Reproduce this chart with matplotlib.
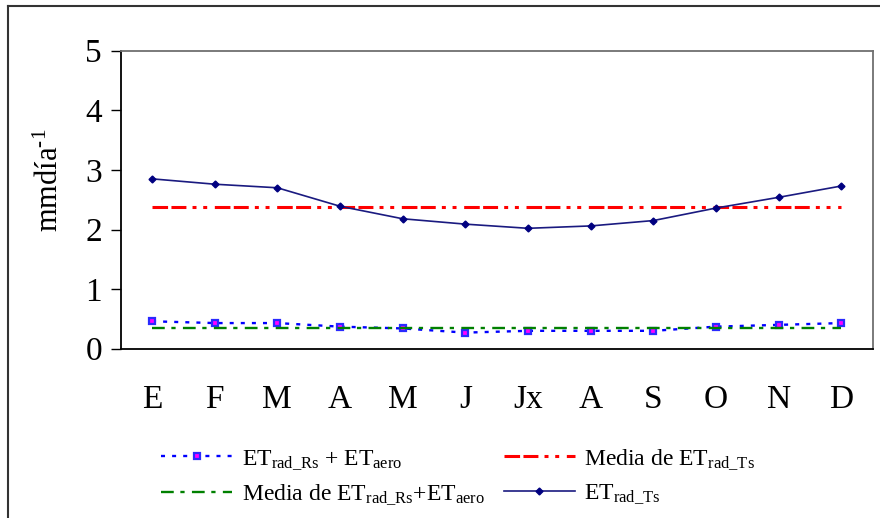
import numpy as np
import matplotlib
matplotlib.use("Agg")
from matplotlib import pyplot as plt
from matplotlib.lines import Line2D

plt.rcParams['font.family'] = ['Liberation Serif', 'DejaVu Serif']
plt.rcParams['mathtext.fontset'] = 'custom'
plt.rcParams['mathtext.rm'] = 'Liberation Serif'
plt.rcParams['mathtext.it'] = 'Liberation Serif:italic'

# months (Spanish initials, "Jx" = julio)
months = ["E", "F", "M", "A", "M", "J", "Jx", "A", "S", "O", "N", "D"]

# values [mm/dia]
et_rad_ts = [2.85, 2.76, 2.70, 2.39, 2.18, 2.09, 2.02, 2.06, 2.15, 2.36, 2.54, 2.73]
et_rs_aero = [0.46, 0.43, 0.43, 0.37, 0.34, 0.27, 0.30, 0.30, 0.30, 0.37, 0.40, 0.43]
media_ts = 2.37
media_rs_aero = 0.35

x = np.arange(len(months)) + 0.5

fig = plt.figure(figsize=(8.8, 5.18), dpi=100)
ax = fig.add_axes([120.7/880, 1-348.7/518, (872.7-120.7)/880, (348.7-50.7)/518])

# outer frame (only top and left visible)
fig.add_artist(Line2D([8/880, 8/880], [0, 1-6/518], color='#333333', lw=1.5))
fig.add_artist(Line2D([8/880, 1], [1-6/518, 1-6/518], color='#333333', lw=1.5))

l_blue, = ax.plot(x, et_rs_aero, color='#0000ff', lw=1.7, linestyle=(0, (1.7, 3.0)),
                  marker='s', markersize=5, markerfacecolor='#ff00ff',
                  markeredgecolor='#2a2aff', markeredgewidth=1.6,
                  label=r'ET$_{\mathrm{rad\_Rs}}$ + ET$_{\mathrm{aero}}$')
l_green, = ax.plot(x, np.full(len(x), media_rs_aero), color='#008000', lw=1.7,
                   linestyle=(0, (5.4, 2.8, 1.8, 3.1)),
                   label=r'Media de ET$_{\mathrm{rad\_Rs}}$+ET$_{\mathrm{aero}}$')
l_red, = ax.plot(x, np.full(len(x), media_ts), color='#ff0000', lw=2.2,
                 linestyle=(0, (5.1, 1.1, 4.9, 2.0, 1.3, 2.2, 1.3, 2.5)),
                 label=r'Media de ET$_{\mathrm{rad\_Ts}}$')
l_navy, = ax.plot(x, et_rad_ts, color='#1a1a80', lw=1.2, marker='D', markersize=3.5,
                  markerfacecolor='#000080', markeredgecolor='#000080',
                  label=r'ET$_{\mathrm{rad\_Ts}}$')

ax.set_xlim(0, 12)
ax.set_ylim(0, 5)
ax.set_xticks(x)
ax.set_xticklabels(months)
ax.set_yticks([0, 1, 2, 3, 4, 5])
ax.tick_params(axis='y', direction='out', length=7, width=1, pad=6.5, labelsize=24)
ax.tick_params(axis='x', length=0, pad=26, labelsize=24)

for s in ['left', 'bottom']:
    ax.spines[s].set_color('black')
    ax.spines[s].set_linewidth(1.3)
for s in ['top', 'right']:
    ax.spines[s].set_color('#707070')
    ax.spines[s].set_linewidth(1.3)

fig.text(50/880, 1-180/518, r'mmdía$^{\text{-1}}$', rotation=90,
         ha='center', va='center', fontsize=22)

fig.legend(handles=[l_blue, l_green, l_red, l_navy], ncol=2, loc='center left',
           bbox_to_anchor=(152/880, 1-477/518), frameon=False, fontsize=17,
           handlelength=3.0, handletextpad=0.4, columnspacing=0.8,
           labelspacing=0.45, borderaxespad=0)

fig.savefig("out.png", dpi=100)
